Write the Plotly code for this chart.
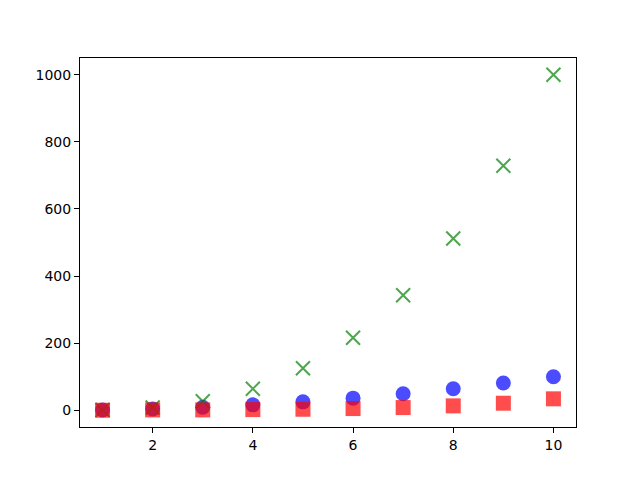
import plotly.graph_objects as go

x = [1, 2, 3, 4, 5, 6, 7, 8, 9, 10]
y_sq = [1, 4, 9, 16, 25, 36, 49, 64, 81, 100]
y_cube = [1, 8, 27, 64, 125, 216, 343, 512, 729, 1000]
y_red = [0, 1, 1, 2, 3, 5, 8, 13, 21, 34]

fig = go.Figure()
fig.add_trace(go.Scatter(x=x, y=y_sq, mode="markers",
                         marker=dict(symbol="circle", size=15, color="blue", opacity=0.7,
                                     line=dict(width=0))))
fig.add_trace(go.Scatter(x=x, y=y_cube, mode="markers",
                         marker=dict(symbol="x-thin-open", size=14, color="green", opacity=0.7,
                                     line=dict(width=2, color="green"))))
fig.add_trace(go.Scatter(x=x, y=y_red, mode="markers",
                         marker=dict(symbol="square", size=15, color="red", opacity=0.7,
                                     line=dict(width=0))))

axis_common = dict(showgrid=False, zeroline=False, showline=True, linecolor="black",
                   linewidth=1, mirror=True, ticks="outside", ticklen=5, tickcolor="black",
                   tickfont=dict(family="DejaVu Sans", size=14, color="black"))
fig.update_xaxes(range=[0.55, 10.45], tickvals=[2, 4, 6, 8, 10], **axis_common)
fig.update_yaxes(range=[-49.95, 1049.95], tickvals=[0, 200, 400, 600, 800, 1000], **axis_common)
fig.update_layout(width=640, height=480, showlegend=False,
                  paper_bgcolor="white", plot_bgcolor="white",
                  margin=dict(l=72, r=72, t=50, b=61))
fig.write_html("out.html")
